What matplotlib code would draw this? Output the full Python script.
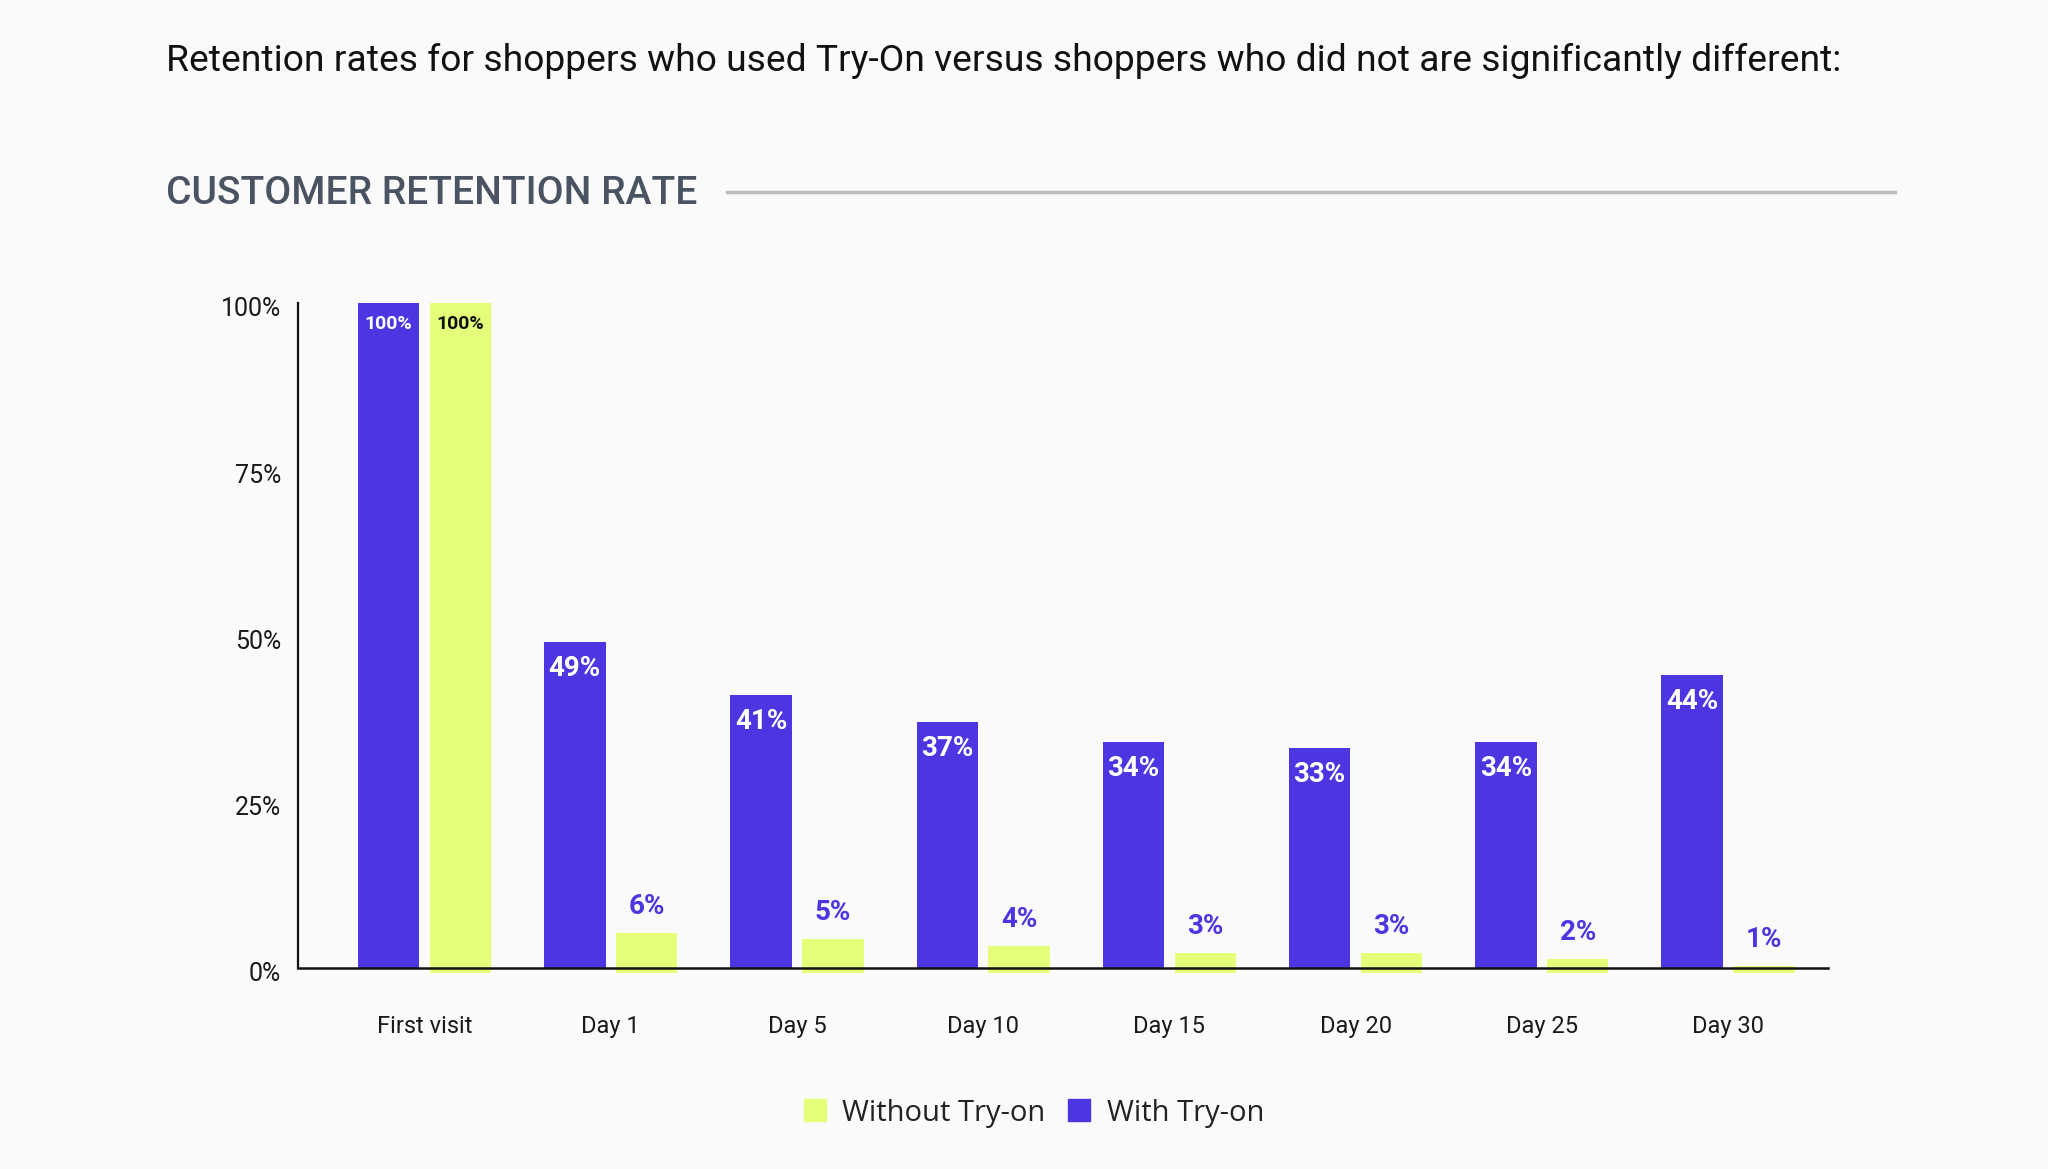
import numpy as np
import matplotlib
matplotlib.use("Agg")
import matplotlib.pyplot as plt
import matplotlib.transforms as mtrans
from matplotlib.lines import Line2D

categories = ["First visit", "Day 1", "Day 5", "Day 10", "Day 15", "Day 20", "Day 25", "Day 30"]
with_tryon = [100, 49, 41, 37, 34, 33, 34, 44]
without_tryon = [100, 6, 5, 4, 3, 3, 2, 1]
y_ticks = [0, 25, 50, 75, 100]

PURPLE = "#4b36e1"
GREEN = "#e4fe79"
BG = "#fafafa"

plt.rcParams["font.family"] = ["Roboto", "DejaVu Sans"]

fig = plt.figure(figsize=(20.48, 11.69), dpi=100, facecolor=BG)
ax = fig.add_axes([0.1455, 0.172, 0.747, 0.569])
ax.set_facecolor(BG)

x = np.arange(len(categories))
w = 0.33
off = 0.193
sink = 0.7  # green bars start a bit under the axis line

# small green bars sit lower by `sink`; the full 100% one still reaches the top
green_tops = np.array([v if v >= 100 else v - sink for v in without_tryon])

ax.bar(x - off, with_tryon, w, color=PURPLE, zorder=2)
ax.bar(x + off, green_tops + sink, w, bottom=-sink, color=GREEN, zorder=2, clip_on=False)

for i, v in enumerate(with_tryon):
    if v == 100:
        ax.annotate(f"{v}%", (x[i] - off, v), xytext=(0, -15), textcoords="offset points",
                    ha="center", va="center", color="white", fontsize=14, weight="semibold")
    else:
        ax.annotate(f"{v}%", (x[i] - off, v), xytext=(0, -19), textcoords="offset points",
                    ha="center", va="center", color="white", fontsize=20, weight="bold")

for i, v in enumerate(without_tryon):
    if v == 100:
        ax.annotate(f"{v}%", (x[i] + off, green_tops[i]), xytext=(0, -15), textcoords="offset points",
                    ha="center", va="center", color="#111111", fontsize=14, weight="semibold")
    else:
        ax.annotate(f"{v}%", (x[i] + off, green_tops[i]), xytext=(0, 19), textcoords="offset points",
                    ha="center", va="center", color=PURPLE, fontsize=20, weight="bold")

ax.set_xlim(-0.68, len(categories) - 1 + 0.536)
ax.set_ylim(0, 100)
ax.set_yticks(y_ticks)
ax.set_yticklabels([f"{t}%" for t in y_ticks])
ax.set_xticks(x)
ax.set_xticklabels(categories)
ax.tick_params(axis="y", length=0, pad=12, labelsize=18, labelcolor="#1a1a1a")
ax.tick_params(axis="x", length=0, pad=34, labelsize=17, labelcolor="#1a1a1a")

shift = mtrans.ScaledTranslation(0, -4 / 100, fig.dpi_scale_trans)
for lbl in ax.get_yticklabels():
    lbl.set_transform(lbl.get_transform() + shift)

for s in ["top", "right"]:
    ax.spines[s].set_visible(False)
ax.spines["left"].set_linewidth(1.6)
ax.spines["bottom"].set_linewidth(1.8)
ax.spines["left"].set_color("#111111")
ax.spines["bottom"].set_color("#111111")
ax.spines["left"].set_zorder(3)
ax.spines["bottom"].set_zorder(3)

# headings
title = fig.text(166 / 2048, 1 - 61 / 1169,
                 "Retention rates for shoppers who used Try-On versus shoppers who did not are significantly different:",
                 ha="left", va="center", fontsize=26, color="#111111")
heading = fig.text(166 / 2048, 1 - 194 / 1169, "CUSTOMER RETENTION RATE",
                   ha="left", va="center", fontsize=26, color="#4a5361", weight="medium")
fig.add_artist(Line2D([727 / 2048, 1895 / 2048], [1 - 192 / 1169] * 2,
                      color="#bdbdbd", lw=2.5, transform=fig.transFigure))

renderer = fig.canvas.get_renderer()
for t, target in [(title, 1676), (heading, 531)]:
    bb = t.get_window_extent(renderer)
    t.set_fontsize(t.get_fontsize() * target / bb.width)

handles = [
    Line2D([], [], marker="s", linestyle="none", markersize=16, markerfacecolor=GREEN,
           markeredgecolor=GREEN, label="Without Try-on"),
    Line2D([], [], marker="s", linestyle="none", markersize=16, markerfacecolor=PURPLE,
           markeredgecolor=PURPLE, label="With Try-on"),
]
fig.legend(handles=handles, loc="center", bbox_to_anchor=(0.504, 1 - 1113 / 1169), ncol=2,
           frameon=False, handletextpad=0.45, columnspacing=0.65, handlelength=1.0,
           prop={"family": ["Open Sans", "DejaVu Sans"], "size": 21}, labelcolor="#222222")

fig.savefig("out.png", dpi=100, facecolor=BG)
